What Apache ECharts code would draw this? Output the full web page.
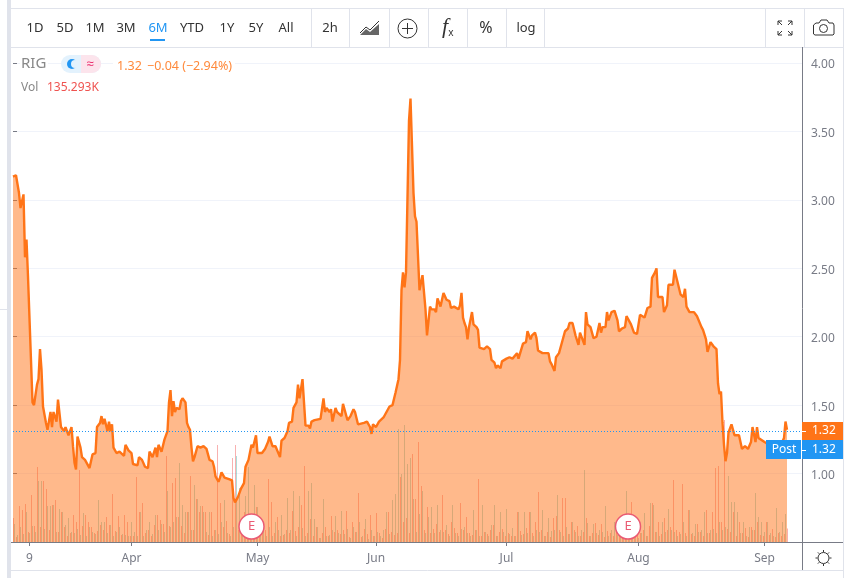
<!DOCTYPE html>
<html>
<head>
<meta charset="utf-8">
<title>RIG</title>
<style>
  html, body { margin: 0; padding: 0; background: #fff; }
  #chart { width: 851px; height: 578px; }
</style>
</head>
<body>
<div id="chart"></div>
<script src="https://cdn.jsdelivr.net/npm/echarts@6/dist/echarts.min.js"></script>
<script>
// bar number (2h bars, 6M range) and close
var priceBars = [
  0,2,4,5,7,8,9,10,11,13,14,16,17,18,19,20,21,22,23,25,26,27,29,30,32,34,35,37,39,40,
  41,42,43,45,46,48,51,53,55,56,58,59,60,61,63,64,65,66,67,69,71,74,75,77,79,80,83,84,86,88,
  90,91,93,95,96,97,99,101,103,104,105,106,107,108,109,111,112,113,115,116,117,118,119,120,121,123,125,127,129,131,
  133,134,135,137,138,139,141,142,144,146,147,148,150,152,154,155,157,159,160,162,163,166,168,170,171,173,175,178,179,181,
  183,184,186,187,189,190,191,193,194,195,197,198,199,201,205,207,208,209,211,212,213,215,216,217,219,220,221,223,225,227,
  228,230,231,234,236,238,239,240,242,244,245,247,249,251,253,255,256,257,258,259,260,261,262,263,264,265,266,267,268,269,
  270,271,272,273,275,276,277,278,279,281,282,283,284,285,287,289,291,292,294,297,298,299,300,301,302,303,304,306,307,309,
  310,311,312,314,316,318,319,321,322,323,325,326,327,329,331,333,336,337,340,342,343,345,346,348,349,350,353,357,358,359,
  361,362,364,366,368,370,371,373,375,377,378,381,382,383,385,387,389,391,392,393,395,396,397,399,401,403,404,406,408,409,
  410,412,414,416,418,421,423,425,426,428,429,430,433,434,436,437,440,441,443,445,447,448,449,451,454,456,457,459,460,462,
  463,465,467,469,470,471,472,473,474,475,476,477,479,481,484,486,488,490,492,493,495,496,497,501,504,508,512,514,515,516
];
var priceValues = [
  3.17,3.18,3.05,2.94,3.04,2.58,2.71,2.44,2.44,1.52,1.50,1.65,1.69,1.91,1.76,1.49,1.48,1.37,1.32,1.45,1.34,1.45,1.38,1.54,1.34,1.31,1.34,1.28,1.34,1.20,
  1.08,1.03,1.27,1.19,1.12,1.10,1.04,1.14,1.15,1.34,1.37,1.42,1.36,1.40,1.31,1.38,1.31,1.36,1.19,1.15,1.16,1.13,1.21,1.17,1.15,1.07,1.06,1.12,1.10,1.05,
  1.04,1.16,1.12,1.19,1.12,1.21,1.16,1.25,1.31,1.52,1.61,1.42,1.53,1.45,1.48,1.47,1.53,1.55,1.52,1.37,1.34,1.32,1.19,1.09,1.12,1.20,1.19,1.20,1.18,1.10,
  1.09,1.05,0.98,0.94,0.97,1.01,0.97,0.98,0.96,0.95,0.82,0.79,0.83,0.89,0.93,1.05,1.10,1.21,1.19,1.28,1.15,1.15,1.18,1.23,1.27,1.20,1.20,1.12,1.24,1.26,
  1.31,1.37,1.38,1.48,1.52,1.65,1.55,1.69,1.69,1.35,1.35,1.33,1.38,1.39,1.40,1.55,1.45,1.48,1.45,1.47,1.38,1.48,1.45,1.46,1.42,1.51,1.47,1.39,1.42,1.47,
  1.45,1.36,1.37,1.37,1.38,1.34,1.29,1.36,1.34,1.38,1.38,1.41,1.45,1.49,1.50,1.59,1.64,1.69,1.83,2.34,2.47,2.36,2.47,3.02,3.58,3.74,3.74,3.05,2.88,2.84,
  2.84,2.34,2.33,2.45,2.20,2.01,2.00,2.22,2.20,2.20,2.18,2.28,2.27,2.22,2.32,2.27,2.26,2.21,2.22,2.20,2.23,2.32,2.14,2.10,2.07,1.98,2.07,2.18,2.09,2.07,
  2.05,1.92,1.93,1.91,1.93,1.91,1.83,1.81,1.77,1.79,1.77,1.82,1.83,1.84,1.85,1.84,1.88,1.84,1.95,1.96,2.04,1.98,2.01,2.03,1.99,1.90,1.88,1.88,1.82,1.80,
  1.75,1.85,1.88,1.96,2.04,2.06,2.10,2.10,2.01,1.94,2.03,1.94,2.18,2.09,2.07,1.99,2.00,2.10,2.03,2.07,2.07,2.18,2.12,2.18,2.19,2.12,2.04,2.06,2.07,2.15,
  2.16,2.09,2.03,2.02,2.16,2.14,2.21,2.22,2.43,2.47,2.50,2.29,2.29,2.18,2.23,2.38,2.38,2.49,2.40,2.31,2.29,2.35,2.22,2.18,2.18,2.15,2.16,2.07,2.05,1.98,
  1.89,1.96,1.93,1.91,1.66,1.58,1.60,1.37,1.21,1.09,1.15,1.30,1.36,1.28,1.28,1.18,1.20,1.18,1.23,1.34,1.23,1.34,1.26,1.23,1.21,1.20,1.21,1.26,1.38,1.32
];

// volume in thousands, falling bars sit on even bar numbers, rising bars on odd ones
var volumeDown = [
  240,50,360,320,380,100,470,160,750,150,
  610,530,120,370,420,100,300,150,60,90,
  270,200,720,160,270,200,150,90,110,170,
  120,250,170,480,110,260,70,270,200,60,
  60,650,300,390,90,120,60,170,270,220,
  180,860,160,590,640,250,160,90,300,660,
  120,430,300,360,300,70,300,120,970,390,
  150,210,80,840,970,120,100,300,60,120,
  190,350,80,140,120,630,400,90,250,60,
  70,120,90,310,110,150,370,760,90,230,
  60,150,40,90,150,60,260,100,120,80,
  120,310,50,200,100,490,50,130,80,270,
  60,290,90,40,130,300,100,70,90,650,
  200,240,90,880,430,1000,560,120,350,90,
  130,180,100,470,120,80,200,140,90,390,
  120,250,90,70,120,630,60,100,80,120,
  170,60,100,130,60,90,60,60,300,110,
  80,140,300,90,200,500,120,60,100,50,
  240,260,120,440,440,80,200,120,160,60,
  100,240,60,90,190,70,180,50,110,90,
  60,160,90,200,70,40,400,60,150,90,
  120,60,160,390,100,200,80,240,120,150,
  620,120,100,580,90,320,80,60,180,100,
  60,320,90,300,740,760,200,1220,130,100,
  300,60,200,90,140,50,150,120,200,70,
  60,200,70,130,50,90,60,80,135.293
];
var volumeUp = [
  180,70,150,80,300,90,160,100,610,610,
  130,360,360,370,100,330,300,170,240,100,
  90,130,70,290,60,150,100,80,420,200,
  200,90,170,60,100,150,80,70,60,200,
  100,60,300,60,120,200,80,270,120,180,
  100,510,150,200,250,790,370,300,300,120,
  570,430,360,300,100,300,60,120,80,200,
  420,90,60,150,860,540,100,460,750,120,
  570,350,80,120,60,150,60,200,120,270,
  80,440,120,510,60,460,140,60,510,590,
  230,150,40,430,60,70,120,260,90,310,
  80,130,40,150,100,200,60,230,30,120,
  60,100,60,120,300,80,420,480,1130,680,
  1170,780,840,430,100,280,510,90,250,350,
  90,370,120,100,170,60,370,90,60,130,
  150,90,60,320,120,60,370,100,60,170,
  370,60,300,100,330,80,140,60,300,70,
  300,90,300,60,120,100,320,60,240,110,
  120,470,100,60,150,80,200,100,60,120,
  720,190,60,180,90,120,100,360,60,120,
  200,70,60,170,510,80,60,100,40,90,
  290,60,390,370,100,60,200,100,330,120,
  100,60,80,200,60,320,90,180,100,120,
  300,90,120,130,90,200,120,150,660,400,
  400,300,90,200,60,150,120,490,250,200,
  100,200,90,60,340,100,200,280
];

var monthBars = [11, 79, 163, 242, 329, 417, 501];
var monthLabels = ['9', 'Apr', 'May', 'Jun', 'Jul', 'Aug', 'Sep'];
var yTicks = [1, 1.5, 2, 2.5, 3, 3.5, 4];
var earningsBars = [159, 410];
var priceLine = 1.307;

var rangeLabels = ['1D', '5D', '1M', '3M', '6M', 'YTD', '1Y', '5Y', 'All'];
var rangeCenters = [35, 65, 95, 126, 158, 192, 227, 256, 286];
var toolbarSeps = [311, 349, 389, 428, 467, 506, 544, 765, 804];

var FONT = '"Noto Sans", sans-serif';
var BORDER = '#e0e3eb';
var ORANGE = '#ff7417';
var BLUE = '#2196f3';
var DARK = '#333';

function txt(x, y, s, fill, size, align) {
  return { type: 'text', x: x, y: y + 1, silent: true, style: { text: s, fill: fill, font: (size || 13) + 'px ' + FONT, textAlign: align || 'left', textVerticalAlign: 'middle' } };
}
function box(x, y, w, h, fill, r) {
  return { type: 'rect', silent: true, shape: { x: x, y: y, width: w, height: h, r: r || 0 }, style: { fill: fill } };
}
function seg(x1, y1, x2, y2, color, w) {
  return { type: 'line', silent: true, shape: { x1: x1, y1: y1, x2: x2, y2: y2 }, style: { stroke: color, lineWidth: w || 1 } };
}
function ring(cx, cy, r, color, w, fill) {
  return { type: 'circle', silent: true, shape: { cx: cx, cy: cy, r: r }, style: { stroke: color, lineWidth: w || 1, fill: fill || 'none' } };
}

var g = [];
// frame
g.push(box(7, 0, 4, 578, BORDER));
g.push(seg(11, 8.5, 844, 8.5, BORDER));
g.push(seg(11, 47.5, 844, 47.5, BORDER));
g.push(seg(11, 570.5, 844, 570.5, BORDER));
g.push(seg(843.5, 8, 843.5, 578, BORDER));
g.push(seg(0, 309.5, 7, 309.5, BORDER));
toolbarSeps.forEach(function (x) { g.push(seg(x + 0.5, 9, x + 0.5, 47, BORDER)); });
g.push(seg(11, 542.5, 843, 542.5, '#787b86'));
g.push(seg(802.5, 47, 802.5, 570, '#787b86'));

// toolbar
rangeLabels.forEach(function (s, i) {
  g.push(txt(rangeCenters[i], 27, s, s === '6M' ? BLUE : DARK, 13, 'center'));
});
g.push(box(150, 39, 15, 2, BLUE));
g.push(txt(330, 27, '2h', DARK, 13, 'center'));
g.push({ type: 'polygon', silent: true, shape: { points: [[360, 35], [366, 29], [370, 32], [379, 24], [379, 35]] }, style: { fill: '#666' } });
g.push({ type: 'polyline', silent: true, shape: { points: [[360, 33], [366, 27], [370, 30], [379, 21]] }, style: { stroke: DARK, fill: 'none' } });
g.push(ring(407.5, 28.5, 9.5, DARK));
g.push(seg(402, 28.5, 413, 28.5, DARK));
g.push(seg(407.5, 23, 407.5, 34, DARK));
g.push({ type: 'text', x: 445, y: 27, silent: true, style: { text: 'f', fill: DARK, font: 'italic 22px "Liberation Serif"', textAlign: 'center', textVerticalAlign: 'middle' } });
g.push(txt(451, 32, 'x', DARK, 10, 'center'));
g.push(txt(486, 27, '%', DARK, 16, 'center'));
g.push(txt(526, 27, 'log', DARK, 13, 'center'));
// fullscreen corners
[[778, 21, 1, 1], [792, 21, -1, 1], [778, 35, 1, -1], [792, 35, -1, -1]].forEach(function (c) {
  g.push({ type: 'polyline', silent: true, shape: { points: [[c[0] + 4 * c[2], c[1]], [c[0], c[1]], [c[0], c[1] + 4 * c[3]]] }, style: { stroke: DARK, fill: 'none' } });
  g.push(seg(c[0], c[1], c[0] + 4 * c[2], c[1] + 4 * c[3], DARK));
});
// camera
g.push({ type: 'polyline', silent: true, shape: { points: [[816, 23], [819, 23], [821, 20], [827, 20], [829, 23], [833, 23], [834, 25], [834, 34], [833, 35], [815, 35], [813.5, 34], [813.5, 25], [816, 23]] }, style: { stroke: DARK, fill: 'none' } });
g.push(ring(823.5, 28.5, 4, DARK));

// legend, white behind the text so the 4.00 grid line stops there
g.push(box(20, 55, 28, 18, '#fff'));
g.push(box(113, 57, 122, 17, '#fff'));
g.push(txt(21, 63, 'RIG', '#888', 15));
g.push({ type: 'rect', silent: true, shape: { x: 61, y: 55, width: 40, height: 18, r: 9 }, style: { fill: '#e3f2fd' } });
g.push({ type: 'rect', silent: true, shape: { x: 81, y: 55, width: 20, height: 18, r: [0, 9, 9, 0] }, style: { fill: '#fce4ec' } });
g.push({ type: 'circle', silent: true, shape: { cx: 72, cy: 64, r: 5 }, style: { fill: BLUE } });
g.push({ type: 'circle', silent: true, shape: { cx: 75, cy: 64, r: 4 }, style: { fill: '#e3f2fd' } });
g.push(txt(90, 63, '≈', '#e91e63', 13, 'center'));
g.push(txt(117, 65, '1.32', '#ff8a3c', 12.5));
g.push(txt(147, 65, '−0.04 (−2.94%)', '#ff8a3c', 12.5));
g.push(txt(21, 87, 'Vol', '#888', 12));
g.push(txt(47, 87, '135.293K', '#ef5350', 12));

// last price tags
g.push(box(802, 422, 41, 18, ORANGE));
g.push(seg(802, 431.5, 806, 431.5, '#fff'));
g.push(txt(812, 430, '1.32', '#fff', 12));
g.push(box(802, 440, 41, 19, BLUE));
g.push(seg(802, 450.5, 806, 450.5, '#fff'));
g.push(txt(812, 449, '1.32', '#fff', 12));
g.push(box(766, 440, 35, 19, BLUE));
g.push(txt(784, 449, 'Post', '#fff', 12, 'center'));

// settings sun
g.push(ring(823.5, 558, 5.5, DARK));
[[0, -1], [0.7, -0.7], [1, 0], [0.7, 0.7], [0, 1], [-0.7, 0.7], [-1, 0], [-0.7, -0.7]].forEach(function (d) {
  g.push(seg(823.5 + d[0] * 6, 558 + d[1] * 6, 823.5 + d[0] * 8, 558 + d[1] * 8, DARK));
});
g.forEach(function (el) { el.z = 20; });

var chart = echarts.init(document.getElementById('chart'));
chart.setOption({
  animation: false,
  backgroundColor: '#fff',
  textStyle: { fontFamily: FONT },
  grid: { left: 13, top: 47, width: 789, height: 495, containLabel: false },
  xAxis: {
    type: 'value',
    min: 0,
    max: 526,
    axisLine: { show: false },
    axisTick: { length: 4, lineStyle: { color: '#787b86' }, customValues: monthBars },
    axisLabel: {
      customValues: monthBars,
      margin: 11,
      color: '#787b86',
      fontSize: 12,
      formatter: function (v) { return monthLabels[monthBars.indexOf(v)]; }
    },
    splitLine: { show: false }
  },
  yAxis: [
    {
      type: 'value',
      position: 'right',
      min: 0.5,
      max: 4.117,
      axisLine: { show: false },
      axisTick: { show: true, length: 4, lineStyle: { color: '#787b86' }, customValues: yTicks },
      axisLabel: {
        customValues: yTicks,
        margin: 9,
        verticalAlign: 'top',
        lineHeight: 4,
        color: '#787b86',
        fontSize: 12,
        formatter: function (v) { return v.toFixed(2); }
      },
      splitLine: { show: true, lineStyle: { color: '#f0f3fa' } }
    },
    { type: 'value', min: 0, max: 4950, show: false }
  ],
  series: [
    {
      name: 'Vol down',
      type: 'bar',
      yAxisIndex: 1,
      barWidth: 1,
      barGap: '-100%',
      itemStyle: { color: 'rgba(239,83,80,0.45)' },
      // a third of a bar over, so the 1px bar lands on a whole pixel column
      data: volumeDown.map(function (v, i) { return [i * 2 + 1 / 3, v]; })
    },
    {
      name: 'Vol up',
      type: 'bar',
      yAxisIndex: 1,
      barWidth: 1,
      barGap: '-100%',
      itemStyle: { color: 'rgba(38,166,154,0.38)' },
      data: volumeUp.map(function (v, i) { return [i * 2 + 1, v]; })
    },
    {
      name: 'RIG',
      type: 'line',
      showSymbol: false,
      lineStyle: { color: ORANGE, width: 2.4 },
      itemStyle: { color: ORANGE },
      areaStyle: { color: ORANGE, opacity: 0.5, origin: 'start' },
      data: priceBars.map(function (b, i) { return [b, priceValues[i]]; }),
      markLine: {
        silent: true,
        symbol: 'none',
        label: { show: false },
        lineStyle: { color: BLUE, type: [1, 2], width: 1 },
        data: [{ yAxis: priceLine }]
      }
    },
    {
      name: 'Earnings',
      type: 'scatter',
      symbolSize: 25,
      z: 5,
      itemStyle: { color: '#fff', borderColor: '#ea5b73', borderWidth: 1.5, opacity: 1 },
      label: { show: true, position: 'inside', formatter: 'E', color: '#ea5b73', fontSize: 13 },
      data: earningsBars.map(function (b) { return [b, 0.613]; })
    }
  ],
  graphic: g
});
</script>
</body>
</html>
